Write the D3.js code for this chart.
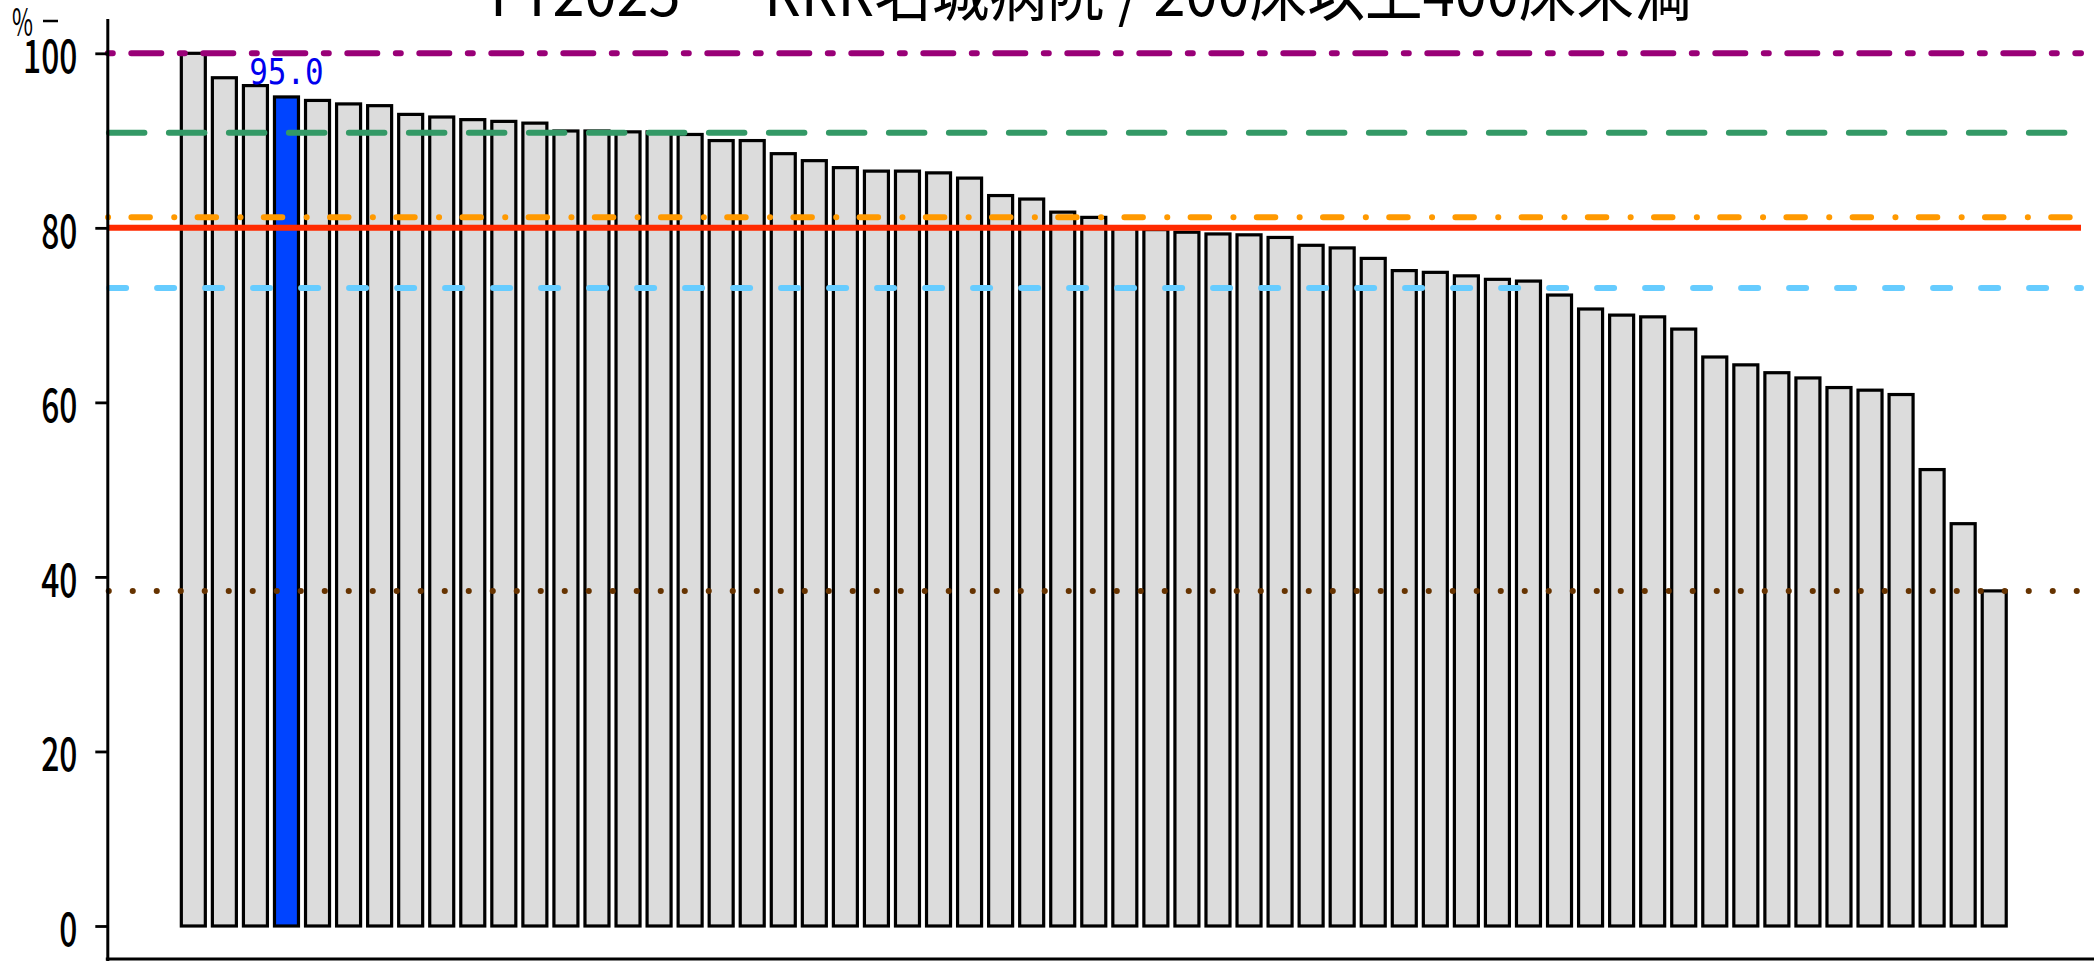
<!DOCTYPE html>
<html><head><meta charset="utf-8">
<script src="https://cdn.jsdelivr.net/npm/d3@7/dist/d3.min.js"></script>
<style>html,body{margin:0;padding:0;background:#fff;overflow:hidden}</style>
</head><body><svg id="c" width="2094" height="961"></svg>
<script>
// ---------- data ----------
const categories = ["h01","h02","h03","h04","h05","h06","h07","h08","h09","h10",
  "h11","h12","h13","h14","h15","h16","h17","h18","h19","h20",
  "h21","h22","h23","h24","h25","h26","h27","h28","h29","h30",
  "h31","h32","h33","h34","h35","h36","h37","h38","h39","h40",
  "h41","h42","h43","h44","h45","h46","h47","h48","h49","h50",
  "h51","h52","h53","h54","h55","h56","h57","h58","h59"];
const values = [100.0, 97.2, 96.3, 95.0, 94.6, 94.2, 94.0, 93.0, 92.7, 92.4,
  92.2, 92.0, 91.1, 91.1, 91.0, 91.0, 90.7, 90.0, 90.0, 88.5,
  87.7, 86.9, 86.5, 86.5, 86.3, 85.7, 83.7, 83.3, 81.8, 81.2,
  79.9, 79.8, 79.5, 79.3, 79.2, 78.9, 78.0, 77.7, 76.5, 75.1,
  74.9, 74.5, 74.1, 73.9, 72.3, 70.7, 70.0, 69.8, 68.4, 65.2,
  64.3, 63.4, 62.8, 61.7, 61.4, 60.9, 52.3, 46.1, 38.4];
const highlightCategory = "h04";
const highlightLabel = "95.0";
const yTicks = [0, 20, 40, 60, 80, 100];
const refKeys = ["max", "q3", "mean", "target", "median", "min"];
const refValues = [100, 90.9, 81.2, 80, 73.1, 38.4];
const titleText = "FY2025 － RRR名城病院 / 200床以上400床未満";
const unitLabel = "%";

// ---------- styles ----------
const refStyles = {
  max:    {color:"#990077", width:6, dash:"30 18.5 5 18.5", offset:48, cap:"round"},
  q3:     {color:"#339966", width:6, dash:"35.5 24.5", offset:58.4, cap:"round"},
  mean:   {color:"#ff9900", width:6, dash:"18.5 24.3 0.1 23.3", offset:42.1, cap:"round"},
  target: {color:"#ff2a00", width:6, dash:null, offset:0, cap:"butt"},
  median: {color:"#66ccff", width:6, dash:"17 31", offset:46.2, cap:"round"},
  min:    {color:"#663300", width:6, dash:"0.1 23.9", offset:22.6, cap:"round"}
};

const W = 2094, H = 961;
const svg = d3.select("#c");
const axisX = 107.3;
const lineEnd = 2081;
const step = 31.05, x0 = 177.8;
const CJK = "'Noto Sans CJK JP','Noto Sans',sans-serif";

const y = d3.scaleLinear().domain([-4, 104]).range([960.9, 18.4]);
const x = d3.scaleBand().domain(categories)
  .range([x0, x0 + categories.length * step])
  .paddingInner(0.227).paddingOuter(0.1135);

// bars
svg.append("g").selectAll("rect").data(values).join("rect")
  .attr("x", (d, i) => x(categories[i]))
  .attr("width", x.bandwidth())
  .attr("y", d => y(d))
  .attr("height", d => y(0) - y(d))
  .attr("fill", (d, i) => categories[i] === highlightCategory ? "#0044ff" : "#dcdcdc")
  .attr("stroke", "#000")
  .attr("stroke-width", 3.2);

// reference lines
svg.append("g").selectAll("line").data(refValues).join("line")
  .attr("x1", axisX).attr("x2", lineEnd)
  .attr("y1", d => y(d)).attr("y2", d => y(d))
  .each(function(d, i) {
    const s = refStyles[refKeys[i]];
    const l = d3.select(this)
      .attr("stroke", s.color).attr("stroke-width", s.width)
      .attr("stroke-linecap", s.cap);
    if (s.dash) l.attr("stroke-dasharray", s.dash).attr("stroke-dashoffset", s.offset);
  });

// y axis
const gy = svg.append("g").attr("transform", `translate(${axisX},0)`)
  .call(d3.axisLeft(y).tickValues(yTicks).tickSize(12).tickSizeOuter(0).tickFormat(d3.format("d")));
gy.select(".domain").attr("stroke", "#000").attr("stroke-width", 3);
gy.selectAll(".tick line").attr("stroke", "#000").attr("stroke-width", 2.8);
gy.selectAll(".tick text")
  .attr("x", null).attr("dy", null).attr("fill", "#000")
  .attr("text-anchor", "end")
  .style("font-family", CJK).style("font-size", "46px").style("font-weight", 500)
  .attr("transform", "translate(-30,19.5) scale(0.69,1)");

// x axis line
const xl = d3.scaleLinear().domain([0, 1]).range([axisX - 1.5, W]);
svg.append("line").attr("x1", xl(0)).attr("x2", xl(1))
  .attr("y1", 959).attr("y2", 959)
  .attr("stroke", "#000").attr("stroke-width", 3);

// unit label
svg.append("text").text(unitLabel)
  .attr("transform", "translate(12,36) scale(0.6,1)")
  .style("font-family", CJK).style("font-size", "38px").attr("fill", "#000");
svg.append("line").attr("x1", 43).attr("x2", 58).attr("y1", 21).attr("y2", 21)
  .attr("stroke", "#000").attr("stroke-width", 2.5);

// highlight value label
svg.append("text").text(highlightLabel)
  .attr("transform", `translate(${x(highlightCategory) + x.bandwidth() / 2},84) scale(0.86,1)`)
  .attr("text-anchor", "middle")
  .style("font-family", "'DejaVu Sans Mono',monospace").style("font-size", "36px")
  .attr("fill", "#0000ee");

// title (clipped at the top as in the reference)
svg.append("text").text(titleText)
  .attr("x", 490).attr("y", 16)
  .attr("textLength", 1202).attr("lengthAdjust", "spacingAndGlyphs")
  .style("font-family", CJK).style("font-size", "62px").attr("fill", "#000");
</script>
</body></html>
